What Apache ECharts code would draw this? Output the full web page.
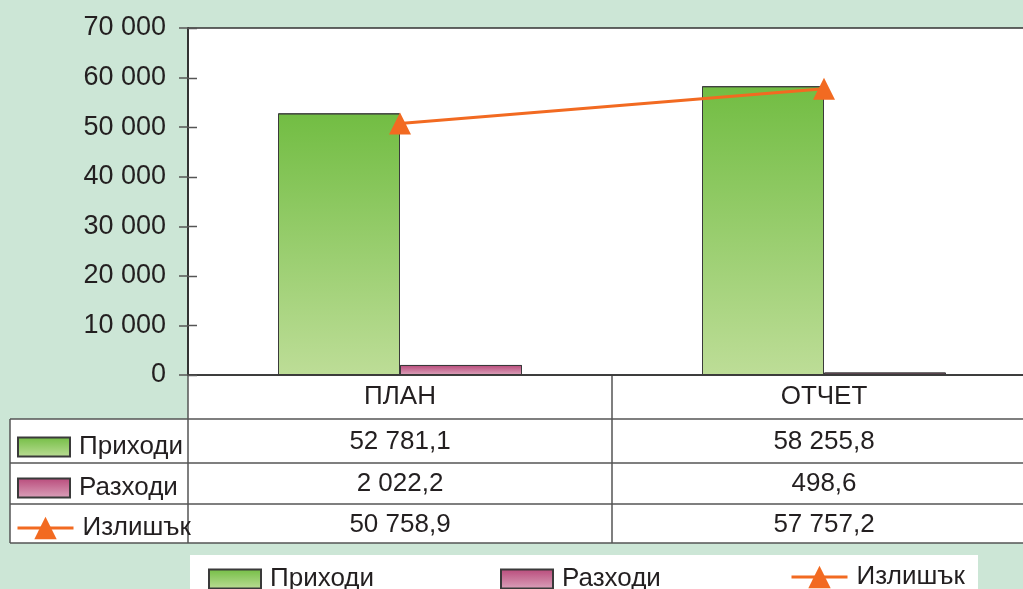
<!DOCTYPE html>
<html>
<head>
<meta charset="utf-8">
<script src="https://cdn.jsdelivr.net/npm/echarts@6/dist/echarts.min.js"></script>
<style>
  html, body { margin: 0; padding: 0; background: #cce6d6; }
  #main { width: 1023px; height: 589px; }
</style>
</head>
<body>
<div id="main"></div>
<script>
  const categories = ['ПЛАН', 'ОТЧЕТ']
  const incomeValues = [52781.1, 58255.8]
  const expenseValues = [2022.2, 498.6]
  const surplusValues = [50758.9, 57757.2]
  const seriesNames = ['Приходи', 'Разходи', 'Излишък']
  const yMin = 0
  const yMax = 70000
  const yStep = 10000

  const FONT = 'Liberation Sans, Arial, sans-serif'
  const TEXT = '#231f20'
  const LINE = '#555'
  const PLOT_W = 848

  // 52781.1 -> "52 781,1"
  function fmt (v, dec) {
    const parts = v.toFixed(dec).split('.')
    parts[0] = parts[0].replace(/\B(?=(\d{3})+(?!\d))/g, ' ')
    return parts.join(',')
  }

  const green = new echarts.graphic.LinearGradient(0, 0, 0, 1, [
    { offset: 0, color: '#72bd43' },
    { offset: 1, color: '#bddd97' }
  ])
  const pink = new echarts.graphic.LinearGradient(0, 0, 0, 1, [
    { offset: 0, color: '#b8497a' },
    { offset: 1, color: '#dba3bb' }
  ])

  function legendAt (name, left, top, isLine) {
    const lg = {
      data: [name],
      left: left,
      top: top,
      padding: 0,
      itemWidth: isLine ? 56 : 52,
      itemHeight: isLine ? 28 : 19,
      itemGap: 0,
      selectedMode: false,
      textStyle: { fontFamily: FONT, fontSize: 26, color: TEXT, lineHeight: isLine ? 28 : 19, padding: [0, 0, 0, 4] }
    }
    if (isLine) {
      lg.lineStyle = { width: 3 }
    } else {
      lg.icon = 'rect'
    }
    return lg
  }

  const chart = echarts.init(document.getElementById('main'))

  chart.setOption({
    backgroundColor: '#cce6d6',
    animation: false,
    grid: {
      left: 188,
      top: 28,
      width: PLOT_W,
      height: 347,
      outerBoundsMode: 'none',
      show: true,
      backgroundColor: '#fff',
      borderColor: '#333',
      borderWidth: 1.5
    },
    legend: [
      legendAt(seriesNames[0], 208, 566),
      legendAt(seriesNames[1], 500, 566),
      legendAt(seriesNames[2], 790, 563, true),
      // легенда в лявата колона на таблицата
      legendAt(seriesNames[0], 17, 434),
      legendAt(seriesNames[1], 17, 475),
      legendAt(seriesNames[2], 16, 514, true)
    ],
    xAxis: {
      type: 'category',
      data: categories,
      axisLine: { lineStyle: { color: '#333', width: 1.5 } },
      axisTick: { show: false },
      axisLabel: { show: false }
    },
    yAxis: {
      type: 'value',
      min: yMin,
      max: yMax,
      interval: yStep,
      splitLine: { show: false },
      axisLine: { show: true, lineStyle: { color: '#333', width: 2 } },
      axisTick: { show: true, length: 9, lineStyle: { color: LINE, width: 1.5 } },
      axisLabel: {
        margin: 22,
        fontFamily: FONT,
        fontSize: 27,
        color: TEXT,
        formatter: v => fmt(v, 0)
      }
    },
    series: [
      {
        name: seriesNames[0],
        type: 'bar',
        barWidth: 122,
        barGap: '0%',
        data: incomeValues,
        itemStyle: { color: green, borderColor: '#3a3a3a', borderWidth: 1 }
      },
      {
        name: seriesNames[1],
        type: 'bar',
        barWidth: 122,
        data: expenseValues,
        itemStyle: { color: pink, borderColor: '#3a3a3a', borderWidth: 1 }
      },
      {
        name: seriesNames[2],
        type: 'line',
        data: surplusValues,
        symbol: 'triangle',
        symbolSize: [22, 22],
        lineStyle: { color: '#f26a21', width: 3 },
        itemStyle: { color: '#f26a21' },
        z: 5
      }
    ]
  })

  // таблица с данни под графиката
  const rows = [
    { y: 397, cells: categories },
    { y: 442, cells: incomeValues.map(v => fmt(v, 1)) },
    { y: 484, cells: expenseValues.map(v => fmt(v, 1)) },
    { y: 525, cells: surplusValues.map(v => fmt(v, 1)) }
  ]
  const centers = categories.map(c => chart.convertToPixel({ xAxisIndex: 0 }, c))
  const divider = (centers[0] + centers[1]) / 2
  const gx = 188
  const right = 1023

  const graphic = [
    { type: 'rect', shape: { x: gx, y: 376, width: right - gx, height: 167 }, style: { fill: '#fff' }, z: -1 },
    { type: 'rect', shape: { x: 10, y: 419, width: gx - 10, height: 124 }, style: { fill: '#fff' }, z: -1 },
    { type: 'rect', shape: { x: 190, y: 555, width: 788, height: 40 }, style: { fill: '#fff' }, z: -1 }
  ]
  const hLines = [419, 463, 504, 543]
  hLines.forEach(y => {
    graphic.push({ type: 'line', shape: { x1: 10, y1: y, x2: right, y2: y }, style: { stroke: LINE, lineWidth: 1.5 } })
  })
  graphic.push({ type: 'line', shape: { x1: 10, y1: 419, x2: 10, y2: 543 }, style: { stroke: LINE, lineWidth: 1.5 } })
  graphic.push({ type: 'line', shape: { x1: gx, y1: 375, x2: gx, y2: 543 }, style: { stroke: LINE, lineWidth: 1.5 } })
  graphic.push({ type: 'line', shape: { x1: divider, y1: 375, x2: divider, y2: 543 }, style: { stroke: LINE, lineWidth: 1.5 } })

  // чертичките на оста продължават и навътре в полето
  for (let v = yMin; v <= yMax; v += yStep) {
    const y = Math.round(chart.convertToPixel({ yAxisIndex: 0 }, v)) + 0.5
    graphic.push({ type: 'line', shape: { x1: gx, y1: y, x2: gx + 9, y2: y }, style: { stroke: LINE, lineWidth: 1.5 }, z: 10 })
  }

  rows.forEach(r => {
    r.cells.forEach((t, i) => {
      graphic.push({
        type: 'text',
        x: centers[i],
        y: r.y,
        style: { text: t, fontFamily: FONT, fontSize: 26, fill: TEXT, align: 'center', verticalAlign: 'middle' }
      })
    })
  })

  chart.setOption({ graphic: graphic })
</script>
</body>
</html>
